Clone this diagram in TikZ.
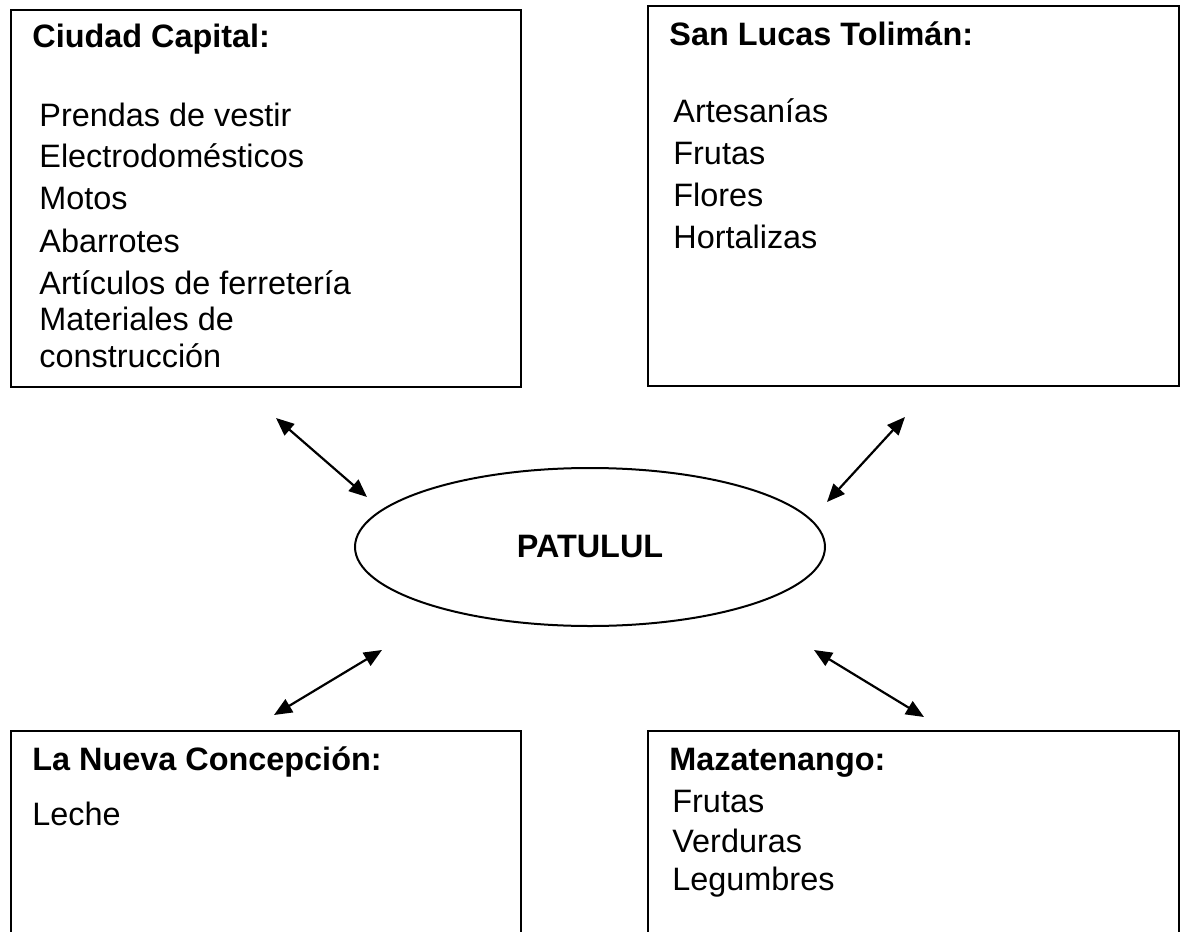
\documentclass[tikz,border=0pt]{standalone}
\usepackage{fontspec}
\setmainfont{Liberation Sans}
\usetikzlibrary{shapes.geometric,arrows.meta}

\tikzset{
  caja/.style={draw,line width=1.1pt,anchor=north west,inner sep=0pt},
  titulo/.style={anchor=base west,inner sep=0pt,font=\fontsize{16.2}{20}\selectfont\bfseries},
  renglon/.style={anchor=base west,inner sep=0pt,font=\fontsize{16.2}{20}\selectfont},
  flecha/.style={{Triangle[length=9pt,width=7.5pt]}-{Triangle[length=9pt,width=7.5pt]},line width=1.1pt}
}

\begin{document}
\begin{tikzpicture}[x=0.5pt,y=-0.5pt]
\useasboundingbox (0,0) rectangle (1180,932);

% cajas
\node[caja,minimum width=255pt,minimum height=188.5pt] (cap) at (10,9) {};
\node[caja,minimum width=265.5pt,minimum height=190pt] (slt) at (647,5) {};
\node[caja,minimum width=255pt,minimum height=101pt] (lnc) at (10,730) {};
\node[caja,minimum width=265.5pt,minimum height=101pt] (maz) at (647,730) {};

\node[titulo] (capT) at (32,47) {Ciudad Capital:};
\foreach \t/\y [count=\i] in {Prendas de vestir/126,Electrodomésticos/167,Motos/209,
  Abarrotes/252,Artículos de ferretería/294,Materiales de/330,construcción/367}
  \node[renglon] (cap\i) at (39,\y) {\t};

\node[titulo] (sltT) at (669,45) {San Lucas Tolimán:};
\foreach \t/\y [count=\i] in {Artesanías/122,Frutas/164,Flores/206,Hortalizas/248}
  \node[renglon] (slt\i) at (673,\y) {\t};

\node[titulo] (lncT) at (32,770) {La Nueva Concepción:};
\node[renglon] (lnc1) at (32,825) {Leche};

\node[titulo] (mazT) at (669,770) {Mazatenango:};
\foreach \t/\y [count=\i] in {Frutas/812,Verduras/852,Legumbres/890}
  \node[renglon] (maz\i) at (672,\y) {\t};

% centro
\node[draw,ellipse,line width=1pt,minimum width=235pt,minimum height=79pt,
  font=\fontsize{16.2}{20}\selectfont\bfseries] (pat) at (590,547) {PATULUL};

% flechas
\coordinate (capF) at (276,418); \coordinate (patA) at (367,497);
\coordinate (sltF) at (905,417); \coordinate (patB) at (827,502);
\coordinate (lncF) at (274,715); \coordinate (patC) at (382,650);
\coordinate (mazF) at (924,717); \coordinate (patD) at (814,650);
\draw[flecha] (capF) -- (patA);
\draw[flecha] (sltF) -- (patB);
\draw[flecha] (lncF) -- (patC);
\draw[flecha] (mazF) -- (patD);
\end{tikzpicture}
\end{document}
